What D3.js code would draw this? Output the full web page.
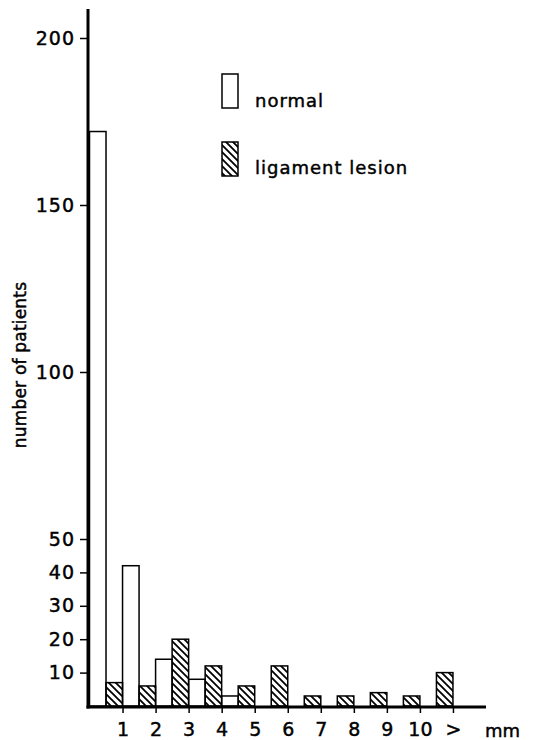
<!DOCTYPE html>
<html><head><meta charset="utf-8">
<script src="https://cdn.jsdelivr.net/npm/d3@7"></script>
<style>body{margin:0;background:#fff}svg{display:block}text{font-family:"DejaVu Sans",sans-serif;fill:#000;stroke:#000;stroke-width:0.45px}</style>
</head><body>
<script>
const tickLabels = ["1","2","3","4","5","6","7","8","9","10",">"];
const normal   = [172, 42, 14, 8, 3, 0, 0, 0, 0, 0, 0];
const ligament = [7, 6, 20, 12, 6, 12, 3, 3, 4, 3, 10];
const yTicks = [10,20,30,40,50,100,150,200];
const seriesNames = ["normal","ligament lesion"];

const W=533,H=740;
const svg=d3.select("body").append("svg").attr("width",W).attr("height",H);
const defs=svg.append("defs");
const pat=defs.append("pattern").attr("id","hatch").attr("patternUnits","userSpaceOnUse")
  .attr("width",7).attr("height",7);
pat.append("path").attr("d","M-1,-1 L8,8 M-1,6 L1,8 M6,-1 L8,1")
  .attr("stroke","#000").attr("stroke-width",1.8);

const x=d3.scaleLinear().domain([0,12]).range([89.5,486]);
const y=d3.scaleLinear().domain([0,200]).range([706,38]);

// bars
const g=svg.append("g");
g.selectAll("rect.n").data(normal.map((v,i)=>({v,i})).filter(d=>d.v>0)).join("rect").attr("class","n")
  .attr("x",d=>x(d.i)).attr("y",d=>y(d.v))
  .attr("width",d=>x(d.i+0.5)-x(d.i)).attr("height",d=>y(0)-y(d.v))
  .attr("fill","#fff").attr("stroke","#000").attr("stroke-width",1.5);
g.selectAll("rect.l").data(ligament.map((v,i)=>({v,i})).filter(d=>d.v>0)).join("rect").attr("class","l")
  .attr("x",d=>x(d.i+0.5)).attr("y",d=>y(d.v))
  .attr("width",d=>x(d.i+1)-x(d.i+0.5)).attr("height",d=>y(0)-y(d.v))
  .attr("fill","url(#hatch)").attr("stroke","#000").attr("stroke-width",1.5);

// y axis
const yAxis=d3.axisLeft(y).tickValues(yTicks).tickSize(8).tickPadding(5).tickFormat(d3.format("d"));
const ya=svg.append("g").attr("transform","translate(88,0)").call(yAxis);
ya.select(".domain").remove();
ya.selectAll(".tick line").attr("stroke","#000").attr("stroke-width",1.5);
ya.selectAll(".tick text").attr("font-size",19).attr("letter-spacing",1).attr("font-family","DejaVu Sans").attr("fill","#000");
svg.append("line").attr("x1",88).attr("x2",88).attr("y1",9).attr("y2",708.5).attr("stroke","#000").attr("stroke-width",3);

// x axis
const xAxis=d3.axisBottom(x).tickValues(d3.range(1,12)).tickSize(6).tickPadding(10)
  .tickFormat(d=>tickLabels[d-1]);
const xa=svg.append("g").attr("transform","translate(0,707)").call(xAxis);
xa.select(".domain").remove();
xa.selectAll(".tick line").attr("stroke","#000").attr("stroke-width",1.5);
xa.selectAll(".tick text").attr("font-size",19).attr("font-family","DejaVu Sans").attr("fill","#000");
svg.append("line").attr("x1",86.5).attr("x2",x(12)).attr("y1",707).attr("y2",707).attr("stroke","#000").attr("stroke-width",3);
svg.append("text").attr("x",485).attr("y",737).attr("font-size",18).text("mm");

// y label
svg.append("text").attr("transform","translate(26,365) rotate(-90)").attr("text-anchor","middle")
  .attr("font-size",17).attr("letter-spacing",0.2).text("number of patients");

// legend
svg.append("rect").attr("x",222).attr("y",74).attr("width",16).attr("height",34)
  .attr("fill","#fff").attr("stroke","#000").attr("stroke-width",1.5);
svg.append("text").attr("x",255).attr("y",107).attr("font-size",18).attr("letter-spacing",1).text(seriesNames[0]);
svg.append("rect").attr("x",222).attr("y",142).attr("width",16).attr("height",34)
  .attr("fill","url(#hatch)").attr("stroke","#000").attr("stroke-width",1.5);
svg.append("text").attr("x",255).attr("y",174).attr("font-size",18).attr("letter-spacing",1).text(seriesNames[1]);
</script>
</body></html>
